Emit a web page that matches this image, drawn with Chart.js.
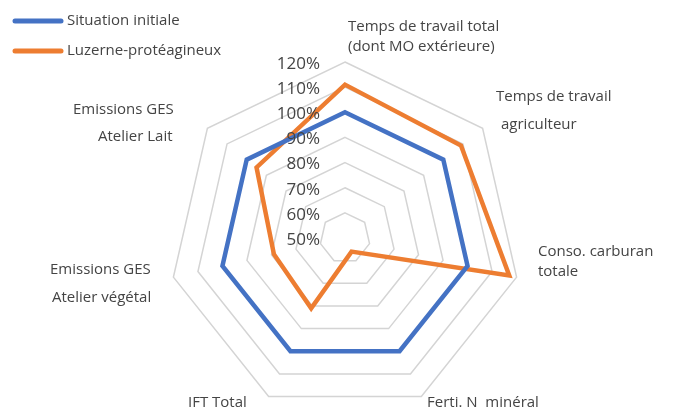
<!DOCTYPE html>
<html>
<head>
<meta charset="utf-8">
<script src="https://cdn.jsdelivr.net/npm/chart.js@4.4.0/dist/chart.umd.min.js"></script>
<style>
  html, body { margin: 0; padding: 0; background: #fff; overflow: hidden; }
  #wrap { position: relative; width: 673px; height: 450px; }
</style>
</head>
<body>
<div id="wrap"><canvas id="radar" width="673" height="450"></canvas></div>
<script>
const categories = [
  ['Temps de travail total', '(dont MO extérieure)'],
  ['Temps de travail', 'agriculteur'],
  ['Conso. carburan', 'totale'],
  ['Ferti. N  minéral'],
  ['IFT Total'],
  ['Emissions GES', 'Atelier végétal'],
  ['Emissions GES', 'Atelier Lait']
];
const situationInitiale = [100, 100, 100, 100, 100, 100, 100];
const luzerneProteagineux = [111, 109, 117, 56, 81, 79, 95];
const tickValues = [50, 60, 70, 80, 90, 100, 110, 120];

// where each line of the category labels sits (left edge, middle)
const labelSpots = [
  [[348, 27], [348, 47]],
  [[496, 97], [501, 125]],
  [[538, 252], [538, 272]],
  [[427, 403]],
  [[188, 403]],
  [[50, 270], [52, 298]],
  [[73, 110], [98, 137]]
];

const textColor = '#444444';
const family = '"Open Sans", "Noto Sans", sans-serif';

const overlay = {
  id: 'overlay',
  afterDraw(chart) {
    const ctx = chart.ctx;
    const r = chart.scales.r;
    ctx.save();
    ctx.fillStyle = textColor;
    ctx.textBaseline = 'middle';

    // tick labels, right aligned left of the vertical axis
    ctx.font = '17px ' + family;
    ctx.textAlign = 'right';
    tickValues.forEach(v => {
      const y = r.yCenter - r.getDistanceFromCenterForValue(v);
      ctx.fillText(v + '%', r.xCenter - 25, y + 2);
    });

    // category labels
    ctx.font = '15px ' + family;
    ctx.textAlign = 'left';
    labelSpots.forEach((spot, i) => {
      categories[i].forEach((line, j) => ctx.fillText(line, spot[j][0], spot[j][1]));
    });

    // legend
    chart.data.datasets.forEach((ds, i) => {
      const y = 21 + i * 30;
      ctx.strokeStyle = ds.borderColor;
      ctx.lineWidth = 5;
      ctx.lineCap = 'round';
      ctx.beginPath();
      ctx.moveTo(15, y);
      ctx.lineTo(61, y);
      ctx.stroke();
      ctx.fillText(ds.label, 67, y);
    });
    ctx.restore();
  }
};

new Chart(document.getElementById('radar'), {
  type: 'radar',
  data: {
    labels: categories,
    datasets: [
      {
        label: 'Situation initiale',
        data: situationInitiale,
        borderColor: '#4472C4',
        backgroundColor: 'transparent',
        borderWidth: 4.5,
        pointRadius: 0,
        fill: false
      },
      {
        label: 'Luzerne-protéagineux',
        data: luzerneProteagineux,
        borderColor: '#ED7D31',
        backgroundColor: 'transparent',
        borderWidth: 4.5,
        pointRadius: 0,
        fill: false
      }
    ]
  },
  options: {
    responsive: false,
    animation: false,
    devicePixelRatio: 1,
    layout: { padding: { top: 62, bottom: 36, left: 169, right: 152 } },
    plugins: {
      legend: { display: false },
      tooltip: { enabled: false }
    },
    scales: {
      r: {
        min: 50,
        max: 120,
        ticks: { display: false, stepSize: 10 },
        grid: { color: '#D4D4D4', lineWidth: 1.5 },
        angleLines: { display: false },
        pointLabels: { display: false }
      }
    }
  },
  plugins: [overlay]
});
</script>
</body>
</html>
